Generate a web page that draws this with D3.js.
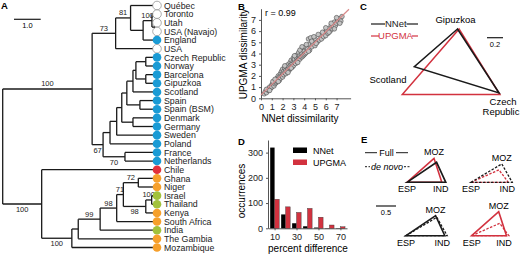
<!DOCTYPE html>
<html><head><meta charset="utf-8">
<script src="https://cdn.jsdelivr.net/npm/d3@7"></script>
<style>
body{margin:0;background:#fff}
svg{font-family:"Liberation Sans",Arial,sans-serif;display:block}
</style></head><body>
<svg id="fig" width="520" height="254"></svg>
<script>
// ---------- data ----------
// A: tree (leaf indices, internal node ids), heights in tree units
const leafNames = ["Québec","Toronto","Utah","USA (Navajo)","England","USA","Czech Republic","Norway",
  "Barcelona","Gipuzkoa","Scotland","Spain","Spain (BSM)","Denmark","Germany","Sweden","Poland",
  "France","Netherlands","Chile","Ghana","Niger","Israel","Thailand","Kenya","South Africa","India",
  "The Gambia","Mozambique"];
const leafGroup = ["am","am","am","am","eu","am","eu","eu","eu","eu","eu","eu","eu","eu","eu","eu","eu",
  "eu","eu","ch","af","af","as","as","af","af","as","af","af"];
const tree = ["root",
  ["T",
    ["n73", ["n81", 0, ["nEng", ["nTor", 1, ["nUN", 2, 3]], 4]], 5],
    ["n67", ["nA", ["nB", ["nC", ["nD", ["nE", ["nCNBG", ["nCN", 6, 7], ["nBG", 8, 9]], 10],
      ["nSP", 11, 12]], ["nDG", 13, 14]], 15], 16], ["nFN", 17, 18]]],
  ["nS", 19, ["nM", ["nG", ["nH", ["nI", ["nJ", ["nGN", 20, 21], ["nITK", ["nIT", 22, 23], 24]], 25], 26], 27], 28]]];
const nodeHeight = {root:5.78, T:2.43, n73:1.55, n81:0.99, nEng:0.52, nTor:0.19, nUN:0.09,
  n67:2.02, nA:1.76, nB:1.51, nC:1.32, nD:1.13, nE:0.90, nCNBG:0.79, nCN:0.42, nBG:0.42,
  nSP:0.64, nDG:0.90, nFN:1.20, nS:4.32, nM:3.19, nG:2.95, nH:2.13, nI:1.51, nJ:1.26,
  nGN:0.70, nITK:0.42, nIT:0.20};
const nodeSupport = {T:100, nS:100, n73:73, n81:81, nTor:100, n67:67, nFN:70, nM:100,
  nH:99, nI:98, nJ:71, nGN:72, nITK:98, nIT:100};

// B: NNet vs UPGMA dissimilarity
const scatterPts = [[0.3,0.4],[0.4,0.6],[0.5,0.5],[0.6,0.8],[0.7,0.7],[0.8,1.0],[0.9,0.9],[1.0,1.2],
  [1.0,1.0],[1.1,1.3],[1.2,1.1],[1.2,1.5],[1.3,1.3],[1.4,1.6],[1.4,1.4],[1.5,1.8],[1.5,1.5],[1.6,1.7],
  [1.6,2.0],[1.7,1.6],[1.7,1.9],[1.8,2.2],[1.8,1.8],[1.9,2.0],[1.9,2.4],[2.0,1.9],[2.0,2.2],[2.0,2.6],
  [2.1,2.1],[2.1,2.4],[2.2,2.3],[2.2,2.7],[2.3,2.2],[2.3,2.5],[2.4,2.9],[2.4,2.4],[2.5,2.6],[2.5,3.0],
  [2.6,2.5],[2.6,2.8],[2.7,3.2],[2.7,2.7],[2.8,3.0],[2.8,3.4],[2.9,2.8],[2.9,3.1],[3.0,3.3],[3.0,3.6],
  [3.0,2.9],[3.1,3.2],[3.1,3.5],[3.2,3.1],[3.2,3.8],[3.3,3.3],[3.3,3.6],[3.4,3.4],[3.4,3.9],[3.5,3.5],
  [3.5,4.1],[3.6,3.5],[3.6,3.8],[3.7,3.7],[3.7,4.3],[3.8,3.7],[3.8,4.0],[3.9,3.8],[3.9,4.5],[4.0,3.9],
  [4.0,4.2],[4.1,4.0],[4.1,4.6],[4.2,4.1],[4.3,4.4],[4.4,5.3],[4.5,4.3],[4.5,4.8],[4.6,5.4],[4.7,4.6],
  [4.8,4.9],[5.0,4.7],[5.0,5.3],[5.2,5.0],[5.4,5.2],[5.5,5.6],[5.6,5.3],[5.8,5.5],[5.9,5.9],[6.0,5.6],
  [6.1,6.0],[6.2,5.8],[6.3,6.2],[6.4,6.0],[6.5,6.5],[6.6,6.2],[6.7,6.4],[6.8,6.8],[6.9,6.5],[7.0,6.7],
  [7.1,7.0],[7.2,6.8],[7.3,7.1],[7.4,6.9],[7.5,7.3],
  [0.5,0.8],[0.8,0.7],[1.1,1.5],[1.3,1.7],[1.6,1.5],[2.2,2.9],[2.5,2.3],[2.8,2.7],[3.1,3.8],[3.4,3.2],
  [3.6,4.3],[3.8,4.6],[4.2,4.8],[4.4,4.2],[4.7,5.1],[4.9,5.5],[5.1,4.9],[5.3,5.7],[5.7,5.9],[6.0,6.3],
  [6.3,5.9],[6.5,6.7],[6.8,6.2],[7.0,7.2],[7.3,6.7]];
const fitLine = [[0, 0.3], [8.15, 7.95]];
const rText = "r = 0.99";

// C: triangle vertices (Gipuzkoa, Scotland, Czech Republic), tree units
const triNames = ["Gipuzkoa", "Scotland", "Czech Republic"];
const triNNet = [[0, 0], [-0.54, 0.47], [0.52, 0.80]];
const triUPGMA = [[0.02, 0], [-0.69, 0.82], [0.53, 0.82]];

// D: histogram of percent difference
const pctBins = [10, 20, 30, 40, 50, 60, 70];
const nnetCounts = [320, 55, 20, 8, 3, 1, 1];
const upgmaCounts = [115, 85, 63, 79, 44, 13, 6];

// E: ESP / MOZ / IND triangles, [x, height] in tree units
const eNames = ["ESP", "MOZ", "IND"];
const nnetFull = [[0, 0], [0.74, 0.50], [0.97, 0]];
const upgmaFull = [[0, 0], [0.675, 0.60], [0.87, 0]];
const nnetDeNovo = [[0, 0], [0.77, 0.46], [1.03, 0]];
const upgmaDeNovo = [[0, 0], [0.70, 0.31], [0.93, 0]];

// ---------- drawing ----------
const svg = d3.select("#fig");
const BLACK = "#1a1a1a", RED = "#d2323f";
const groupFill = {am:"#ffffff", eu:"#1a9bd5", ch:"#e2313c", af:"#f6a02c", as:"#a2c23c"};

function panelLetter(x, y, t) {
  svg.append("text").attr("x", x).attr("y", y).attr("font-size", 9.5)
    .attr("font-weight", "bold").text(t);
}

// ===== A: tree =====
panelLetter(1, 9, "A");
const xT = d3.scaleLinear().domain([nodeHeight.root, 0]).range([2.7, 157]);
const yLeaf = d3.scaleLinear().domain([0, leafNames.length - 1]).range([5.5, 247.5]);
const root = d3.hierarchy(tree, d => Array.isArray(d) ? d.slice(1) : null);
root.eachAfter(n => {
  if (n.children) {
    n.px = xT(nodeHeight[n.data[0]]);
    n.py = (n.children[0].py + n.children[n.children.length - 1].py) / 2;
  } else {
    n.px = xT(0);
    n.py = yLeaf(n.data);
  }
});
const gA = svg.append("g").attr("stroke", BLACK).attr("stroke-width", 1.3).attr("fill", "none");
root.each(n => {
  if (!n.children) return;
  gA.append("line").attr("x1", n.px).attr("x2", n.px)
    .attr("y1", n.children[0].py).attr("y2", n.children[n.children.length - 1].py);
  n.children.forEach(c => {
    gA.append("line").attr("x1", n.px).attr("x2", c.px).attr("y1", c.py).attr("y2", c.py);
  });
});
// support values
root.each(n => {
  if (!n.children || !n.parent) return;
  const s = nodeSupport[n.data[0]];
  if (s === undefined) return;
  const first = n.parent.children[0] === n;
  svg.append("text").attr("x", (n.px + n.parent.px) / 2).attr("y", first ? n.py - 2.5 : n.py + 8)
    .attr("text-anchor", "middle").attr("font-size", 7.5).attr("fill", "#222").text(s);
});
const leaves = root.leaves();
svg.selectAll("circle.leaf").data(leaves).join("circle").attr("class", "leaf")
  .attr("cx", d => d.px).attr("cy", d => d.py).attr("r", 4.3)
  .attr("fill", d => groupFill[leafGroup[d.data]])
  .attr("stroke", d => leafGroup[d.data] === "am" ? "#888" : "none").attr("stroke-width", 0.7);
svg.selectAll("text.leaf").data(leaves).join("text").attr("class", "leaf")
  .attr("x", 164).attr("y", d => d.py + 3.2).attr("font-size", 8.8).attr("fill", "#222")
  .text(d => leafNames[d.data]);
// scale bar
svg.append("line").attr("x1", 14).attr("x2", 14 + (xT(0) - xT(1))).attr("y1", 19.3).attr("y2", 19.3)
  .attr("stroke", BLACK).attr("stroke-width", 1.2);
svg.append("text").attr("x", 14 + (xT(0) - xT(1)) / 2).attr("y", 28).attr("text-anchor", "middle")
  .attr("font-size", 7.5).text("1.0");

// ===== B: scatter =====
panelLetter(238, 10, "B");
const xB = d3.scaleLinear().domain([0, 8.3]).range([261, 350.6]);
const yB = d3.scaleLinear().domain([0, 8]).range([98.3, 8.7]);
const ticksB = d3.range(0, 8);
const axB = svg.append("g").attr("transform", "translate(0,98.3)")
  .call(d3.axisBottom(xB).tickValues(ticksB).tickSize(2).tickSizeOuter(0));
const ayB = svg.append("g").attr("transform", "translate(261,0)")
  .call(d3.axisLeft(yB).tickValues(ticksB).tickSize(2).tickSizeOuter(0));
[axB, ayB].forEach(a => {
  a.selectAll("text").attr("font-size", 9).attr("fill", "#222").attr("font-family", null);
  a.select(".domain").attr("stroke", "#555");
  a.selectAll(".tick line").attr("stroke", "#555");
});
axB.selectAll("text").attr("dy", "0.8em");
svg.append("g").selectAll("circle").data(scatterPts).join("circle")
  .attr("cx", d => xB(d[0])).attr("cy", d => yB(d[1])).attr("r", 2.3)
  .attr("fill", "#c4c4c4").attr("stroke", "#4a4a4a").attr("stroke-width", 0.6);
svg.append("line").attr("x1", xB(fitLine[0][0])).attr("y1", yB(fitLine[0][1]))
  .attr("x2", xB(fitLine[1][0])).attr("y2", yB(fitLine[1][1]))
  .attr("stroke", "#d98a8a").attr("stroke-width", 1.2);
svg.append("text").attr("x", 265).attr("y", 16).attr("font-size", 9).text(rText);
svg.append("text").attr("transform", "translate(247,54) rotate(-90)").attr("text-anchor", "middle")
  .attr("font-size", 10).text("UPGMA dissimilarity");
svg.append("text").attr("x", 300).attr("y", 122).attr("text-anchor", "middle")
  .attr("font-size", 10).text("NNet dissimilarity");

// ===== C: triangles =====
panelLetter(360, 10, "C");
const xC = d3.scaleLinear().domain([0, 1]).range([457.5, 537.5]);
const yC = d3.scaleLinear().domain([0, 1]).range([29, 109]);
const lineC = d3.line().x(d => xC(d[0])).y(d => yC(d[1])).curve(d3.curveLinearClosed);
svg.append("path").attr("d", lineC(triUPGMA)).attr("fill", "none").attr("stroke", RED).attr("stroke-width", 1.5);
svg.append("path").attr("d", lineC(triNNet)).attr("fill", "none").attr("stroke", BLACK).attr("stroke-width", 1.5);
svg.append("text").attr("x", xC(triNNet[0][0]) - 2).attr("y", 23).attr("text-anchor", "middle")
  .attr("font-size", 9.5).text(triNames[0]);
svg.append("text").attr("x", 388).attr("y", 82.5).attr("text-anchor", "middle")
  .attr("font-size", 9.5).text(triNames[1]);
svg.append("text").attr("x", 503).attr("y", 105).attr("text-anchor", "middle")
  .attr("font-size", 9.5).text("Czech");
svg.append("text").attr("x", 501).attr("y", 115).attr("text-anchor", "middle")
  .attr("font-size", 9.5).text("Republic");
// legend C
[["NNet", BLACK, 24, 385, 406.5], ["UPGMA", RED, 36, 379, 412]].forEach(([t, c, y, a, b]) => {
  svg.append("line").attr("x1", 371).attr("x2", a).attr("y1", y).attr("y2", y).attr("stroke", c).attr("stroke-width", 1.2);
  svg.append("line").attr("x1", b).attr("x2", 418).attr("y1", y).attr("y2", y).attr("stroke", c).attr("stroke-width", 1.2);
  svg.append("text").attr("x", (a + b) / 2).attr("y", y + 3.3).attr("text-anchor", "middle")
    .attr("font-size", 9.5).attr("fill", c === RED ? RED : "#222").text(t);
});
svg.append("line").attr("x1", 487).attr("x2", 487 + xC(0.2) - xC(0)).attr("y1", 37.7).attr("y2", 37.7)
  .attr("stroke", BLACK).attr("stroke-width", 1.2);
svg.append("text").attr("x", 495).attr("y", 47).attr("text-anchor", "middle").attr("font-size", 7.5).text("0.2");

// ===== D: histogram =====
panelLetter(238, 145, "D");
const xD = d3.scaleLinear().domain([4, 76]).range([268, 347]);
const yD = d3.scaleLinear().domain([0, 350]).range([228.3, 140]);
const axD = svg.append("g").attr("transform", "translate(0,228.3)")
  .call(d3.axisBottom(xD).tickValues([10, 30, 50, 70]).tickSize(2).tickSizeOuter(0));
const ayD = svg.append("g").attr("transform", "translate(268,0)")
  .call(d3.axisLeft(yD).tickValues([0, 100, 200, 300]).tickSize(2).tickSizeOuter(0));
[axD, ayD].forEach(a => {
  a.selectAll("text").attr("font-size", 9).attr("fill", "#222").attr("font-family", null);
  a.select(".domain").attr("stroke", "#555");
  a.selectAll(".tick line").attr("stroke", "#555");
});
svg.append("g").selectAll("rect").data(pctBins).join("rect")
  .attr("x", d => xD(d - 4)).attr("width", xD(4) - xD(0))
  .attr("y", (d, i) => yD(nnetCounts[i])).attr("height", (d, i) => yD(0) - yD(nnetCounts[i]))
  .attr("fill", "#000");
svg.append("g").selectAll("rect").data(pctBins).join("rect")
  .attr("x", d => xD(d)).attr("width", xD(4.2) - xD(0))
  .attr("y", (d, i) => yD(upgmaCounts[i])).attr("height", (d, i) => yD(0) - yD(upgmaCounts[i]))
  .attr("fill", RED).attr("stroke", "#333").attr("stroke-width", 0.4);
svg.append("text").attr("transform", "translate(245,191) rotate(-90)").attr("text-anchor", "middle")
  .attr("font-size", 10).text("occurrences");
svg.append("text").attr("x", 308).attr("y", 251.5).attr("text-anchor", "middle")
  .attr("font-size", 10).text("percent difference");
[["NNet", "#000", 147.5], ["UPGMA", RED, 159.5]].forEach(([t, c, y]) => {
  svg.append("rect").attr("x", 293).attr("y", y).attr("width", 14).attr("height", 5.5).attr("fill", c);
  svg.append("text").attr("x", 313).attr("y", y + 6).attr("font-size", 9).text(t);
});

// ===== E: small triangles =====
panelLetter(361, 143, "E");
const sE = d3.scaleLinear().domain([0, 1]).range([0, 40]);
const subE = [
  {ox: 407, oy: 182.3, tris: [[upgmaFull, RED, false], [nnetFull, BLACK, false]]},
  {ox: 471, oy: 182.3, tris: [[upgmaDeNovo, RED, true], [nnetDeNovo, BLACK, true]]},
  {ox: 406, oy: 235.7, tris: [[nnetDeNovo, BLACK, true], [nnetFull, BLACK, false]]},
  {ox: 471.7, oy: 235.7, tris: [[upgmaDeNovo, RED, true], [upgmaFull, RED, false]]}
];
subE.forEach(p => {
  const ln = d3.line().x(d => p.ox + sE(d[0])).y(d => p.oy - sE(d[1])).curve(d3.curveLinearClosed);
  p.tris.forEach(([tri, c, dashed]) => {
    svg.append("path").attr("d", ln(tri)).attr("fill", "none").attr("stroke", c)
      .attr("stroke-width", dashed ? 1.3 : 1.6).attr("stroke-dasharray", dashed ? "2.5,1.5" : null);
  });
  const topMoz = d3.max(p.tris, t => t[0][1][1]);
  const mozX = p.tris.find(t => t[0][1][1] === topMoz)[0][1][0];
  const indX = d3.max(p.tris, t => t[0][2][0]);
  svg.append("text").attr("x", p.ox + sE(mozX)).attr("y", p.oy - sE(topMoz) - 3)
    .attr("text-anchor", "middle").attr("font-size", 9).text(eNames[1]);
  svg.append("text").attr("x", p.ox).attr("y", p.oy + 10).attr("text-anchor", "middle")
    .attr("font-size", 9).text(eNames[0]);
  svg.append("text").attr("x", p.ox + sE(indX) - 5).attr("y", p.oy + 10).attr("text-anchor", "middle")
    .attr("font-size", 9).text(eNames[2]);
});
// legend E
svg.append("line").attr("x1", 365).attr("x2", 377).attr("y1", 152.7).attr("y2", 152.7).attr("stroke", BLACK);
svg.append("line").attr("x1", 396).attr("x2", 408).attr("y1", 152.7).attr("y2", 152.7).attr("stroke", BLACK);
svg.append("text").attr("x", 386.5).attr("y", 156).attr("text-anchor", "middle").attr("font-size", 9).text("Full");
svg.append("line").attr("x1", 365).attr("x2", 370).attr("y1", 166.7).attr("y2", 166.7).attr("stroke", BLACK).attr("stroke-dasharray", "2,1.5");
svg.append("line").attr("x1", 404).attr("x2", 410).attr("y1", 166.7).attr("y2", 166.7).attr("stroke", BLACK).attr("stroke-dasharray", "2,1.5");
svg.append("text").attr("x", 387).attr("y", 170).attr("text-anchor", "middle").attr("font-size", 9)
  .attr("font-style", "italic").text("de novo");
// scale bar E
svg.append("line").attr("x1", 376).attr("x2", 376 + sE(0.5)).attr("y1", 206).attr("y2", 206)
  .attr("stroke", BLACK).attr("stroke-width", 1.2);
svg.append("text").attr("x", 386).attr("y", 215).attr("text-anchor", "middle").attr("font-size", 7.5).text("0.5");
</script>
</body></html>
